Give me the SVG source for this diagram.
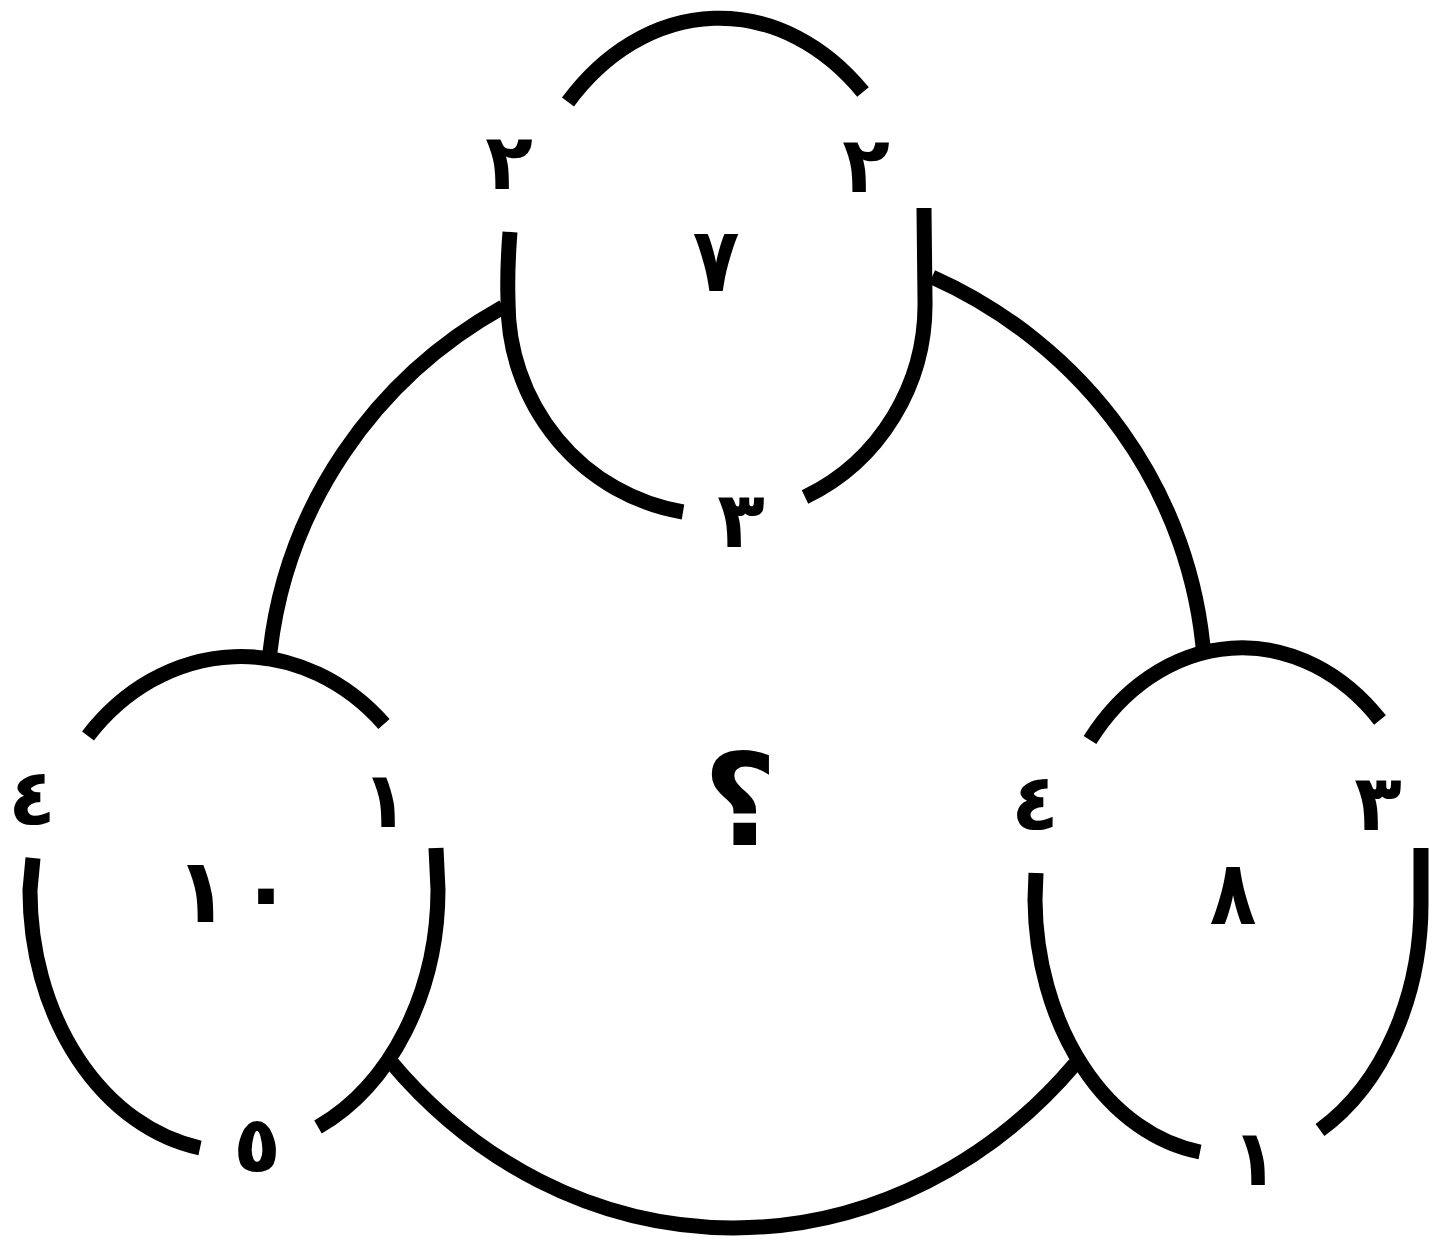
<svg xmlns="http://www.w3.org/2000/svg" width="1434" height="1242" viewBox="0 0 1434 1242">
<style>
.ln{fill:none;stroke:#000;stroke-width:15;stroke-linecap:butt;stroke-linejoin:round}
.lb{font-family:"DejaVu Sans",sans-serif;font-weight:bold;font-size:78px;fill:#000;text-anchor:middle}
.lg{font-size:90px}
</style>
<rect width="1434" height="1242" fill="#fff"/>
<g id="connectors">
<path class="ln" d="M503,307 A470 455 0 0 0 270,652"/>
<path class="ln" d="M932,277 A470 455 0 0 1 1204,658"/>
<path class="ln" d="M391,1062 A470 525 0 0 0 1075,1064"/>
</g>
<g id="node-top">
<path class="ln" d="M568,102 A209 270 0 0 1 863,92"/>
<path class="ln" d="M510,232 Q507,270 508,300 A209 213 0 0 0 683,512"/>
<path class="ln" d="M924,208 L925,300 A209 213 0 0 1 805,497"/>
<text class="lb" x="509" y="189">٢</text>
<text class="lb" x="866" y="192">٢</text>
<text class="lb lg" x="716" y="291" transform="translate(716 0) scale(0.85 1) translate(-716 0)">٧</text>
<text class="lb" x="741" y="547">٣</text>
</g>
<g id="node-left">
<path class="ln" d="M88,736 A204 235 0 0 1 384,724"/>
<path class="ln" d="M33,858 L30,890 A204 261 0 0 0 200,1148"/>
<path class="ln" d="M436,848 L438,890 A204 261 0 0 1 318,1127"/>
<text class="lb" x="32" y="825">٤</text>
<text class="lb" x="385" y="827">١</text>
<text class="lb lg" y="922"><tspan x="202">١</tspan><tspan x="266">٠</tspan></text>
<text class="lb" x="257" y="1172">٥</text>
</g>
<g id="node-right">
<path class="ln" d="M1090,740 A193 240 0 0 1 1380,720"/>
<path class="ln" d="M1036,873 L1035,900 A193 258 0 0 0 1200,1152"/>
<path class="ln" d="M1421,848 L1421,900 A193 258 0 0 1 1320,1130"/>
<text class="lb" x="1035" y="830">٤</text>
<text class="lb" x="1378" y="830">٣</text>
<text class="lb lg" x="1233" y="924" transform="translate(1233 0) scale(0.85 1) translate(-1233 0)">٨</text>
<text class="lb" x="1255" y="1185">١</text>
</g>
<g id="center">
<text class="lb" x="740" y="845" style="font-size:128px">؟</text>
</g>
</svg>
